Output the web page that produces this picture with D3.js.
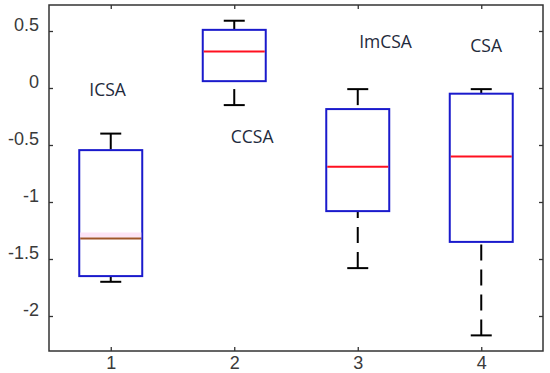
<!DOCTYPE html>
<html>
<head>
<meta charset="utf-8">
<script src="https://cdn.jsdelivr.net/npm/d3@7"></script>
<style>
  body { margin: 0; background: #fff; }
  svg { display: block; }
</style>
</head>
<body>
<svg id="chart"></svg>
<script>
// box plot data
var groups = [1, 2, 3, 4];
var groupNames = ["ICSA", "CCSA", "ImCSA", "CSA"];
var whiskerLow = [-1.70, -0.15, -1.58, -2.17];
var q1 = [-1.65, 0.06, -1.08, -1.35];
var medians = [-1.32, 0.32, -0.69, -0.60];
var q3 = [-0.545, 0.51, -0.185, -0.05];
var whiskerHigh = [-0.40, 0.59, -0.01, -0.01];
var medianColors = ["#a0552a", "#ff1020", "#ff1020", "#ff1020"];
// text annotations, in data units
var nameX = [0.975, 2.145, 3.225, 4.04];
var nameY = [-0.07, -0.48, 0.35, 0.315];
var yTicks = [0.5, 0, -0.5, -1, -1.5, -2];

// plot frame (note: "top" is taken by window.top, so use a margin object)
var frame = {left: 49, right: 543, top: 5, bottom: 351};
var width = 550, height = 373;

var svg = d3.select("#chart")
  .attr("width", width)
  .attr("height", height);

var x = d3.scaleLinear().domain([0.5, 4.5]).range([frame.left, frame.right]);
var y = d3.scaleLinear().domain([0.728, -2.307]).range([frame.top, frame.bottom]);

var boxHalf = 0.255, capHalf = 0.085;

// axes with inward ticks, MATLAB style
var axisColor = "#333";
var gLeft = svg.append("g")
  .attr("transform", "translate(" + frame.left + ",0)")
  .call(d3.axisLeft(y).tickValues(yTicks).tickSize(-4).tickSizeOuter(0)
    .tickPadding(10).tickFormat(function(d) { return String(d); }));
var gRight = svg.append("g")
  .attr("transform", "translate(" + frame.right + ",0)")
  .call(d3.axisRight(y).tickValues(yTicks).tickSize(-4).tickSizeOuter(0).tickFormat(""));
var gTop = svg.append("g")
  .attr("transform", "translate(0," + frame.top + ")")
  .call(d3.axisTop(x).tickValues(groups).tickSize(-4).tickSizeOuter(0).tickFormat(""));
var gBottom = svg.append("g")
  .attr("transform", "translate(0," + frame.bottom + ")")
  .call(d3.axisBottom(x).tickValues(groups).tickSize(-4).tickSizeOuter(0)
    .tickPadding(4).tickFormat(function(d) { return String(d); }));

[gLeft, gRight, gTop, gBottom].forEach(function(g) {
  g.select(".domain").remove();
  g.selectAll(".tick line").attr("stroke", axisColor).attr("stroke-width", 1.3);
  g.selectAll("text")
    .attr("fill", "#3a3a3a")
    .style("font-family", "'Liberation Sans', Arial, sans-serif")
    .style("font-size", "18px");
});
gLeft.selectAll("text").attr("dy", "-0.05em");
gBottom.selectAll("text").attr("dy", "0.75em");

svg.append("rect")
  .attr("x", frame.left).attr("y", frame.top)
  .attr("width", frame.right - frame.left).attr("height", frame.bottom - frame.top)
  .attr("fill", "none")
  .attr("stroke", axisColor)
  .attr("stroke-width", 1.5);

// boxes
var box = svg.append("g").selectAll("g")
  .data(groups)
  .enter()
  .append("g");

// whiskers, dashed from the cap towards the box
box.append("line")
  .attr("x1", function(d) { return x(d); })
  .attr("x2", function(d) { return x(d); })
  .attr("y1", function(d, i) { return y(whiskerHigh[i]); })
  .attr("y2", function(d, i) { return y(q3[i]); })
  .attr("stroke", "#000").attr("stroke-width", 2)
  .attr("stroke-dasharray", "16,9");
box.append("line")
  .attr("x1", function(d) { return x(d); })
  .attr("x2", function(d) { return x(d); })
  .attr("y1", function(d, i) { return y(whiskerLow[i]); })
  .attr("y2", function(d, i) { return y(q1[i]); })
  .attr("stroke", "#000").attr("stroke-width", 2)
  .attr("stroke-dasharray", "16,9");

// caps
[whiskerHigh, whiskerLow].forEach(function(vals) {
  box.append("line")
    .attr("x1", function(d) { return x(d - capHalf); })
    .attr("x2", function(d) { return x(d + capHalf); })
    .attr("y1", function(d, i) { return y(vals[i]); })
    .attr("y2", function(d, i) { return y(vals[i]); })
    .attr("stroke", "#000").attr("stroke-width", 2);
});

box.append("rect")
  .attr("x", function(d) { return x(d - boxHalf); })
  .attr("width", function(d) { return x(d + boxHalf) - x(d - boxHalf); })
  .attr("y", function(d, i) { return y(q3[i]); })
  .attr("height", function(d, i) { return y(q1[i]) - y(q3[i]); })
  .attr("fill", "none")
  .attr("stroke", "#1a1acc")
  .attr("stroke-width", 2);

// faint pink band above the first median (as in the picture)
box.filter(function(d, i) { return i === 0; })
  .append("rect")
  .attr("x", function(d) { return x(d - boxHalf) + 1; })
  .attr("width", function(d) { return x(d + boxHalf) - x(d - boxHalf) - 2; })
  .attr("y", function(d) { return y(medians[0]) - 6; })
  .attr("height", 5)
  .attr("fill", "#fde4f6");

box.append("line")
  .attr("x1", function(d) { return x(d - boxHalf) + 1; })
  .attr("x2", function(d) { return x(d + boxHalf) - 1; })
  .attr("y1", function(d, i) { return y(medians[i]); })
  .attr("y2", function(d, i) { return y(medians[i]); })
  .attr("stroke", function(d, i) { return medianColors[i]; })
  .attr("stroke-width", 2);

// group names
svg.append("g").selectAll("text")
  .data(groupNames)
  .enter()
  .append("text")
  .attr("x", function(d, i) { return x(nameX[i]); })
  .attr("y", function(d, i) { return y(nameY[i]); })
  .attr("text-anchor", "middle")
  .attr("fill", "#1e2a3c")
  .style("font-family", "'Open Sans', sans-serif")
  .style("font-size", "17.5px")
  .text(function(d) { return d; });
</script>
</body>
</html>
